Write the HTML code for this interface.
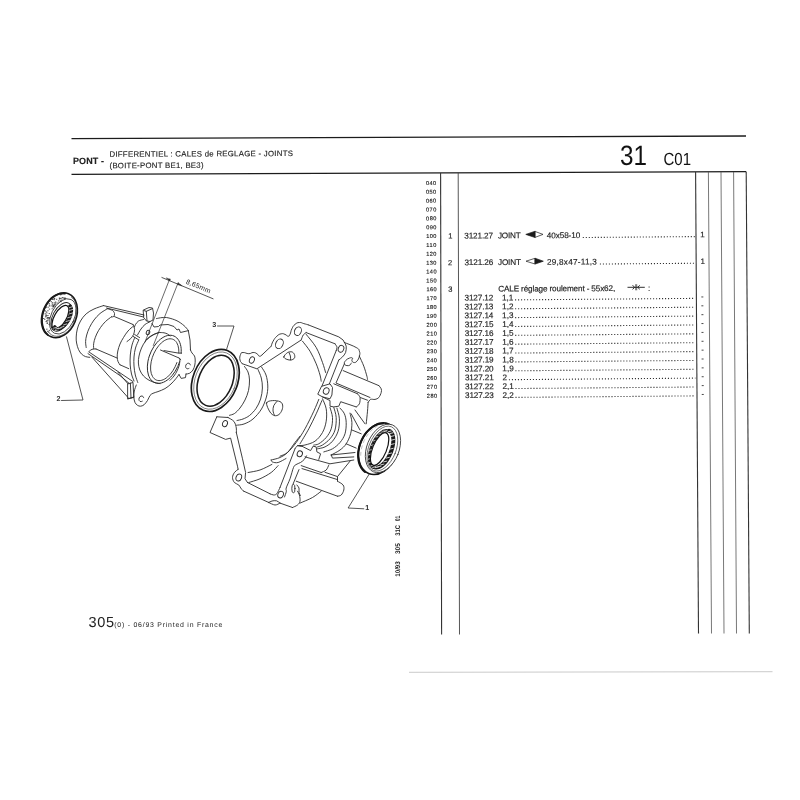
<!DOCTYPE html>
<html><head><meta charset="utf-8"><title>PONT - DIFFERENTIEL</title>
<style>
html,body{margin:0;padding:0;background:#fff;}
body{width:800px;height:800px;overflow:hidden;position:relative;font-family:"Liberation Sans",sans-serif;}
svg{position:absolute;left:0;top:0;will-change:transform;}
svg text{font-family:"Liberation Sans",sans-serif;text-rendering:geometricPrecision;}
</style></head><body>
<svg width="800" height="800" viewBox="0 0 800 800">

<g stroke="#1c1c1c" fill="none">
<line x1="71.5" y1="138.6" x2="746" y2="136" stroke-width="1.3"/>
<line x1="71.5" y1="174.4" x2="746.3" y2="171.6" stroke-width="1.2"/>
<line x1="440.6" y1="173" x2="441.6" y2="634.5" stroke-width="1.1" stroke="#333"/>
<line x1="458.2" y1="173" x2="459.5" y2="634.5" stroke-width="0.9" stroke="#444"/>
<line x1="695.6" y1="172" x2="698.5" y2="633.5" stroke-width="1.1" stroke="#333"/>
<line x1="708.4" y1="172" x2="711.5" y2="633.5" stroke-width="0.8" stroke="#555"/>
<line x1="721" y1="172" x2="724" y2="633.5" stroke-width="0.8" stroke="#555"/>
<line x1="733.6" y1="172" x2="736.5" y2="633.5" stroke-width="0.8" stroke="#555"/>
<line x1="746.2" y1="172" x2="749.3" y2="633.5" stroke-width="1.1" stroke="#333"/>
<line x1="409" y1="672.3" x2="772.5" y2="671.7" stroke-width="0.8" stroke="#bdbdbd"/>
</g>
<g transform="rotate(-0.25 73 164)" stroke="#222" stroke-width="0.14">
<text x="73" y="164.0" font-size="9" font-weight="bold" fill="#222" textLength="31" lengthAdjust="spacing" >PONT -</text>
<text x="109.5" y="157.0" font-size="7.8" font-weight="normal" fill="#222" textLength="183.5" lengthAdjust="spacing" >DIFFERENTIEL : CALES de REGLAGE - JOINTS</text>
<text x="109.5" y="168.4" font-size="7.8" font-weight="normal" fill="#222" textLength="94" lengthAdjust="spacing" >(BOITE-PONT BE1, BE3)</text>
</g>
<text x="620" y="165.2" font-size="28" font-weight="normal" fill="#111" textLength="27" lengthAdjust="spacingAndGlyphs" >31</text>
<text x="663.5" y="165" font-size="17.6" font-weight="normal" fill="#111" textLength="27.5" lengthAdjust="spacingAndGlyphs" >C01</text>
<g transform="rotate(-0.25 430 290)" stroke="#222" stroke-width="0.16">
<text x="426.4" y="184.9" font-size="5.6" font-weight="normal" fill="#1a1a1a" textLength="10.2" lengthAdjust="spacing" stroke="#1a1a1a" stroke-width="0.15">040</text>
<text x="426.4" y="193.77" font-size="5.6" font-weight="normal" fill="#1a1a1a" textLength="10.2" lengthAdjust="spacing" stroke="#1a1a1a" stroke-width="0.15">050</text>
<text x="426.4" y="202.63" font-size="5.6" font-weight="normal" fill="#1a1a1a" textLength="10.2" lengthAdjust="spacing" stroke="#1a1a1a" stroke-width="0.15">060</text>
<text x="426.4" y="211.5" font-size="5.6" font-weight="normal" fill="#1a1a1a" textLength="10.2" lengthAdjust="spacing" stroke="#1a1a1a" stroke-width="0.15">070</text>
<text x="426.4" y="220.36" font-size="5.6" font-weight="normal" fill="#1a1a1a" textLength="10.2" lengthAdjust="spacing" stroke="#1a1a1a" stroke-width="0.15">080</text>
<text x="426.4" y="229.23" font-size="5.6" font-weight="normal" fill="#1a1a1a" textLength="10.2" lengthAdjust="spacing" stroke="#1a1a1a" stroke-width="0.15">090</text>
<text x="426.4" y="238.09" font-size="5.6" font-weight="normal" fill="#1a1a1a" textLength="10.2" lengthAdjust="spacing" stroke="#1a1a1a" stroke-width="0.15">100</text>
<text x="426.4" y="246.96" font-size="5.6" font-weight="normal" fill="#1a1a1a" textLength="10.2" lengthAdjust="spacing" stroke="#1a1a1a" stroke-width="0.15">110</text>
<text x="426.4" y="255.82" font-size="5.6" font-weight="normal" fill="#1a1a1a" textLength="10.2" lengthAdjust="spacing" stroke="#1a1a1a" stroke-width="0.15">120</text>
<text x="426.4" y="264.69" font-size="5.6" font-weight="normal" fill="#1a1a1a" textLength="10.2" lengthAdjust="spacing" stroke="#1a1a1a" stroke-width="0.15">130</text>
<text x="426.4" y="273.55" font-size="5.6" font-weight="normal" fill="#1a1a1a" textLength="10.2" lengthAdjust="spacing" stroke="#1a1a1a" stroke-width="0.15">140</text>
<text x="426.4" y="282.42" font-size="5.6" font-weight="normal" fill="#1a1a1a" textLength="10.2" lengthAdjust="spacing" stroke="#1a1a1a" stroke-width="0.15">150</text>
<text x="426.4" y="291.28" font-size="5.6" font-weight="normal" fill="#1a1a1a" textLength="10.2" lengthAdjust="spacing" stroke="#1a1a1a" stroke-width="0.15">160</text>
<text x="426.4" y="300.14" font-size="5.6" font-weight="normal" fill="#1a1a1a" textLength="10.2" lengthAdjust="spacing" stroke="#1a1a1a" stroke-width="0.15">170</text>
<text x="426.4" y="309.01" font-size="5.6" font-weight="normal" fill="#1a1a1a" textLength="10.2" lengthAdjust="spacing" stroke="#1a1a1a" stroke-width="0.15">180</text>
<text x="426.4" y="317.88" font-size="5.6" font-weight="normal" fill="#1a1a1a" textLength="10.2" lengthAdjust="spacing" stroke="#1a1a1a" stroke-width="0.15">190</text>
<text x="426.4" y="326.74" font-size="5.6" font-weight="normal" fill="#1a1a1a" textLength="10.2" lengthAdjust="spacing" stroke="#1a1a1a" stroke-width="0.15">200</text>
<text x="426.4" y="335.61" font-size="5.6" font-weight="normal" fill="#1a1a1a" textLength="10.2" lengthAdjust="spacing" stroke="#1a1a1a" stroke-width="0.15">210</text>
<text x="426.4" y="344.47" font-size="5.6" font-weight="normal" fill="#1a1a1a" textLength="10.2" lengthAdjust="spacing" stroke="#1a1a1a" stroke-width="0.15">220</text>
<text x="426.4" y="353.34" font-size="5.6" font-weight="normal" fill="#1a1a1a" textLength="10.2" lengthAdjust="spacing" stroke="#1a1a1a" stroke-width="0.15">230</text>
<text x="426.4" y="362.2" font-size="5.6" font-weight="normal" fill="#1a1a1a" textLength="10.2" lengthAdjust="spacing" stroke="#1a1a1a" stroke-width="0.15">240</text>
<text x="426.4" y="371.06" font-size="5.6" font-weight="normal" fill="#1a1a1a" textLength="10.2" lengthAdjust="spacing" stroke="#1a1a1a" stroke-width="0.15">250</text>
<text x="426.4" y="379.93" font-size="5.6" font-weight="normal" fill="#1a1a1a" textLength="10.2" lengthAdjust="spacing" stroke="#1a1a1a" stroke-width="0.15">260</text>
<text x="426.4" y="388.8" font-size="5.6" font-weight="normal" fill="#1a1a1a" textLength="10.2" lengthAdjust="spacing" stroke="#1a1a1a" stroke-width="0.15">270</text>
<text x="426.4" y="397.66" font-size="5.6" font-weight="normal" fill="#1a1a1a" textLength="10.2" lengthAdjust="spacing" stroke="#1a1a1a" stroke-width="0.15">280</text>
<text x="448.5" y="238.69" font-size="7.5" font-weight="normal" fill="#222" >1</text>
<text x="448.2" y="265.29" font-size="7.5" font-weight="normal" fill="#222" >2</text>
<text x="448.2" y="291.88" font-size="7.5" font-weight="normal" fill="#222" >3</text>
<text x="464.5" y="238.69" font-size="8.2" font-weight="normal" fill="#222" textLength="28.8" lengthAdjust="spacing" >3121.27</text>
<text x="498.2" y="238.69" font-size="8.2" font-weight="normal" fill="#222" textLength="22.8" lengthAdjust="spacing" >JOINT</text>
<text x="547" y="238.69" font-size="8.2" font-weight="normal" fill="#222" textLength="33.5" lengthAdjust="spacing" >40x58-10</text>
<text x="464.5" y="265.29" font-size="8.2" font-weight="normal" fill="#222" textLength="28.8" lengthAdjust="spacing" >3121.26</text>
<text x="498.2" y="265.29" font-size="8.2" font-weight="normal" fill="#222" textLength="22.8" lengthAdjust="spacing" >JOINT</text>
<text x="547" y="265.29" font-size="8.2" font-weight="normal" fill="#222" textLength="50" lengthAdjust="spacing" >29,8x47-11,3</text>
<text x="498.2" y="291.88" font-size="8.2" font-weight="normal" fill="#222" textLength="117" lengthAdjust="spacing" >CALE réglage roulement - 55x62,</text>
<text x="648" y="291.88" font-size="8.2" font-weight="normal" fill="#222" >:</text>
<text x="464.5" y="300.75" font-size="8.2" font-weight="normal" fill="#222" textLength="28.8" lengthAdjust="spacing" >3127.12</text>
<text x="502" y="300.75" font-size="8.2" font-weight="normal" fill="#222" >1,1</text>
<text x="464.5" y="309.61" font-size="8.2" font-weight="normal" fill="#222" textLength="28.8" lengthAdjust="spacing" >3127.13</text>
<text x="502" y="309.61" font-size="8.2" font-weight="normal" fill="#222" >1,2</text>
<text x="464.5" y="318.48" font-size="8.2" font-weight="normal" fill="#222" textLength="28.8" lengthAdjust="spacing" >3127.14</text>
<text x="502" y="318.48" font-size="8.2" font-weight="normal" fill="#222" >1,3</text>
<text x="464.5" y="327.34" font-size="8.2" font-weight="normal" fill="#222" textLength="28.8" lengthAdjust="spacing" >3127.15</text>
<text x="502" y="327.34" font-size="8.2" font-weight="normal" fill="#222" >1,4</text>
<text x="464.5" y="336.21" font-size="8.2" font-weight="normal" fill="#222" textLength="28.8" lengthAdjust="spacing" >3127.16</text>
<text x="502" y="336.21" font-size="8.2" font-weight="normal" fill="#222" >1,5</text>
<text x="464.5" y="345.07" font-size="8.2" font-weight="normal" fill="#222" textLength="28.8" lengthAdjust="spacing" >3127.17</text>
<text x="502" y="345.07" font-size="8.2" font-weight="normal" fill="#222" >1,6</text>
<text x="464.5" y="353.94" font-size="8.2" font-weight="normal" fill="#222" textLength="28.8" lengthAdjust="spacing" >3127.18</text>
<text x="502" y="353.94" font-size="8.2" font-weight="normal" fill="#222" >1,7</text>
<text x="464.5" y="362.8" font-size="8.2" font-weight="normal" fill="#222" textLength="28.8" lengthAdjust="spacing" >3127.19</text>
<text x="502" y="362.8" font-size="8.2" font-weight="normal" fill="#222" >1,8</text>
<text x="464.5" y="371.67" font-size="8.2" font-weight="normal" fill="#222" textLength="28.8" lengthAdjust="spacing" >3127.20</text>
<text x="502" y="371.67" font-size="8.2" font-weight="normal" fill="#222" >1,9</text>
<text x="464.5" y="380.53" font-size="8.2" font-weight="normal" fill="#222" textLength="28.8" lengthAdjust="spacing" >3127.21</text>
<text x="502" y="380.53" font-size="8.2" font-weight="normal" fill="#222" >2</text>
<text x="464.5" y="389.4" font-size="8.2" font-weight="normal" fill="#222" textLength="28.8" lengthAdjust="spacing" >3127.22</text>
<text x="502" y="389.4" font-size="8.2" font-weight="normal" fill="#222" >2,1</text>
<text x="464.5" y="398.26" font-size="8.2" font-weight="normal" fill="#222" textLength="28.8" lengthAdjust="spacing" >3127.23</text>
<text x="502" y="398.26" font-size="8.2" font-weight="normal" fill="#222" >2,2</text>
<text x="700.4" y="238.49" font-size="8.0" font-weight="normal" fill="#222" >1</text>
<text x="700.6" y="265.09000000000003" font-size="8.0" font-weight="normal" fill="#222" >1</text>
<g stroke="#333" stroke-width="1.1" stroke-dasharray="1.1 1.9" fill="none">
<line x1="583" y1="238.19" x2="695" y2="237.742"/>
<line x1="600" y1="264.79" x2="695" y2="264.41"/>
<line x1="515" y1="300.25" x2="695" y2="299.53"/>
<line x1="515" y1="309.11" x2="695" y2="308.39"/>
<line x1="515" y1="317.98" x2="695" y2="317.26"/>
<line x1="515" y1="326.84" x2="695" y2="326.11999999999995"/>
<line x1="515" y1="335.71" x2="695" y2="334.98999999999995"/>
<line x1="515" y1="344.57" x2="695" y2="343.84999999999997"/>
<line x1="515" y1="353.44" x2="695" y2="352.71999999999997"/>
<line x1="515" y1="362.3" x2="695" y2="361.58"/>
<line x1="515" y1="371.17" x2="695" y2="370.45"/>
<line x1="508.5" y1="380.03" x2="695" y2="379.284"/>
<line x1="515" y1="388.9" x2="695" y2="388.17999999999995"/>
<line x1="515" y1="397.76" x2="695" y2="397.03999999999996"/>
</g>
<g stroke="#333" stroke-width="0.9">
<line x1="701.3" y1="298.15" x2="703.3" y2="298.15"/>
<line x1="701.3" y1="307.01" x2="703.3" y2="307.01"/>
<line x1="701.3" y1="315.88" x2="703.3" y2="315.88"/>
<line x1="701.3" y1="324.73999999999995" x2="703.3" y2="324.73999999999995"/>
<line x1="701.3" y1="333.60999999999996" x2="703.3" y2="333.60999999999996"/>
<line x1="701.3" y1="342.46999999999997" x2="703.3" y2="342.46999999999997"/>
<line x1="701.3" y1="351.34" x2="703.3" y2="351.34"/>
<line x1="701.3" y1="360.2" x2="703.3" y2="360.2"/>
<line x1="701.3" y1="369.07" x2="703.3" y2="369.07"/>
<line x1="701.3" y1="377.92999999999995" x2="703.3" y2="377.92999999999995"/>
<line x1="701.3" y1="386.79999999999995" x2="703.3" y2="386.79999999999995"/>
<line x1="701.3" y1="395.65999999999997" x2="703.3" y2="395.65999999999997"/>
</g>
</g>
<g id="icons" stroke="#1a1a1a" stroke-width="0.7" stroke-linejoin="round">
<path d="M525.8 234.4 L535.2 231.2 L535.2 237.6Z" fill="#1a1a1a"/>
<path d="M535.2 231.5 L543 234.4 L535.2 237.3Z" fill="#fff"/>
<path d="M526 261.2 L535 258.3 L535 264Z" fill="#fff"/>
<path d="M535 258.2 L543.3 261.2 L535 264.1Z" fill="#1a1a1a"/>
<g fill="none">
<path d="M627.5 287.3 H644.8" stroke-width="0.9"/>
<path d="M632.6 285.2 L634.6 287.3 L632.6 289.4" stroke-width="0.9"/>
<path d="M639.8 285.3 L637.7 287.3 L639.8 289.3" stroke-width="0.9"/>
<path d="M635.7 284.2 V290.3 M636.7 284.2 V290.3" stroke-width="0.6"/>
</g>
</g>

<text x="88.5" y="627" font-size="14.5" font-weight="normal" fill="#222" textLength="25.5" lengthAdjust="spacing" >305</text>
<text x="114.3" y="627.3" font-size="6.9" font-weight="normal" fill="#222" textLength="108" lengthAdjust="spacing" >(0) - 06/93 Printed in France</text>
<text transform="translate(400.4,576.8) rotate(-90)" font-size="6.8" font-weight="bold" fill="#222" textLength="15.6" lengthAdjust="spacingAndGlyphs">10/93</text>
<text transform="translate(400.4,554) rotate(-90)" font-size="6.8" font-weight="bold" fill="#222" textLength="10.8" lengthAdjust="spacingAndGlyphs">305</text>
<text transform="translate(400.4,535.8) rotate(-90)" font-size="6.8" font-weight="bold" fill="#222" textLength="10.8" lengthAdjust="spacingAndGlyphs">31C</text>
<text transform="translate(400.4,521.2) rotate(-90)" font-size="6.8" font-weight="bold" fill="#222" textLength="5.6" lengthAdjust="spacingAndGlyphs">01</text>
<g id="drawing" fill="none" stroke="#2a2a2a" stroke-width="0.9" stroke-linecap="round" stroke-linejoin="round">
<path d="M103.5 305.6 C101.92 306.17 96.88 307.63 94 309 C91.12 310.37 88.45 311.8 86.2 313.8 C83.95 315.8 81.98 318.47 80.5 321 C79.02 323.53 78.02 326.33 77.3 329 C76.58 331.67 76.32 334.67 76.2 337 C76.08 339.33 76.22 340.92 76.6 343 C76.98 345.08 77.68 347.67 78.5 349.5 C79.32 351.33 80.33 352.82 81.5 354 C82.67 355.18 84.12 356.05 85.5 356.6 C86.88 357.15 89.08 357.18 89.8 357.3"/>
<path d="M107.5 308.7 C106.25 309.5 102.25 311.62 100 313.5 C97.75 315.38 95.75 317.67 94 320 C92.25 322.33 90.72 325 89.5 327.5 C88.28 330 87.35 332.67 86.7 335 C86.05 337.33 85.68 339.42 85.6 341.5 C85.52 343.58 86.1 346.5 86.2 347.5"/>
<path d="M111.5 316.8 C110.5 317.58 107.33 319.72 105.5 321.5 C103.67 323.28 101.97 325.42 100.5 327.5 C99.03 329.58 97.73 331.83 96.7 334 C95.67 336.17 94.83 338.58 94.3 340.5 C93.77 342.42 93.58 344.15 93.5 345.5 C93.42 346.85 93.75 348.08 93.8 348.6"/>
<path d="M107.5 308.7 C108.33 309 111.33 309.7 112.5 310.5 C113.67 311.3 114.28 312.5 114.5 313.5 C114.72 314.5 114.3 315.95 113.8 316.5 C113.3 317.05 111.88 316.75 111.5 316.8"/>
<path d="M103.5 305.6 L144 315"/>
<path d="M106.5 308 L143.5 317"/>
<path d="M114.5 316.6 L133 324.5"/>
<path d="M89 351.5 C89.5 351.13 90.83 349.72 92 349.3 C93.17 348.88 95.33 349.05 96 349"/>
<path d="M96 349 L117 358"/>
<path d="M120 364.8 L128.8 368.7"/>
<path d="M133.5 326 C132.58 326.83 129.67 329.08 128 331 C126.33 332.92 124.83 335.33 123.5 337.5 C122.17 339.67 120.95 341.75 120 344 C119.05 346.25 118.27 348.83 117.8 351 C117.33 353.17 117.17 355.25 117.2 357 C117.23 358.75 117.53 360.2 118 361.5 C118.47 362.8 119.67 364.25 120 364.8"/>
<path d="M133 324.5 C133.27 325.33 134.52 327.83 134.6 329.5 C134.68 331.17 134.13 333 133.5 334.5 C132.87 336 131.88 337.33 130.8 338.5 C129.72 339.67 127.63 341 127 341.5"/>
<path d="M89 352 L133 381.6"/>
<path d="M88 353.6 L120 375.6 L129.2 383.4"/>
<path d="M91.8 357 L128 397.5"/>
<path d="M118 372.2 L128 383.8"/>
<path d="M128 383.8 L133 382.5 L133.8 397.4 L128 398.8Z"/>
<path d="M130.4 383.2 L131 398.1"/>
<path d="M143.5 310 L149 307.5 L152.5 308 L153.5 313 L153 320 L150 321.5 L146.5 321 L144 318Z"/>
<path d="M146.3 311.3 L147 320.8"/>
<path d="M143.8 310.5 L146.3 311.3 L152 308.8"/>
<path d="M143.5 319.5 C142.67 319.75 139.83 320.17 138.5 321 C137.17 321.83 136.17 323.5 135.5 324.5 C134.83 325.5 134.67 326.58 134.5 327"/>
<path d="M150 321.8 C149.17 322.25 146.5 323.3 145 324.5 C143.5 325.7 142.25 327.25 141 329 C139.75 330.75 138.08 334 137.5 335"/>
<path d="M134.8 337.5 C134.33 338.75 132.75 342.08 132 345 C131.25 347.92 130.6 351.67 130.3 355 C130 358.33 130 361.83 130.2 365 C130.4 368.17 130.87 371.33 131.5 374 C132.13 376.67 133.58 379.83 134 381"/>
<path d="M138.8 340 C138.25 341.33 136.3 345.17 135.5 348 C134.7 350.83 134.25 354 134 357 C133.75 360 133.78 363 134 366 C134.22 369 134.67 372.25 135.3 375 C135.93 377.75 137.38 381.25 137.8 382.5"/>
<path d="M133.3 336.5 L138.6 339.8"/>
<path d="M134.6 334.5 L139.6 337.6"/>
<path d="M159 332.5 C158 332.92 155.17 333.67 153 335 C150.83 336.33 147.92 338.33 146 340.5 C144.08 342.67 142.67 345.42 141.5 348 C140.33 350.58 139.52 353.5 139 356 C138.48 358.5 138.27 360.67 138.4 363 C138.53 365.33 138.95 367.83 139.8 370 C140.65 372.17 141.97 374.3 143.5 376 C145.03 377.7 147.08 379.1 149 380.2 C150.92 381.3 153.17 382.03 155 382.6 C156.83 383.17 159.17 383.43 160 383.6"/>
<path d="M159 332.5 C159.83 332.55 162.58 332.55 164 332.8 C165.42 333.05 166.5 333.47 167.5 334 C168.5 334.53 169.58 335.67 170 336"/>
<path d="M179.57 361.69 C179.25 362.52 178.41 365.06 177.67 366.67 C176.94 368.27 176.09 369.86 175.18 371.32 C174.27 372.78 173.25 374.18 172.2 375.43 C171.15 376.68 170.01 377.84 168.87 378.82 C167.72 379.81 166.51 380.66 165.33 381.34 C164.14 382.01 162.92 382.54 161.74 382.87 C160.57 383.21 159.38 383.37 158.27 383.35 C157.16 383.33 156.07 383.12 155.07 382.75 C154.07 382.37 153.12 381.81 152.28 381.1 C151.44 380.39 150.68 379.49 150.03 378.47 C149.39 377.46 148.84 376.27 148.42 374.99 C148 373.71 147.7 372.29 147.52 370.81 C147.35 369.33 147.3 367.73 147.37 366.11 C147.45 364.49 147.66 362.79 147.98 361.1 C148.3 359.42 148.76 357.69 149.32 356.02 C149.87 354.35 150.56 352.67 151.33 351.08 C152.09 349.5 152.97 347.94 153.91 346.51 C154.85 345.08 155.89 343.72 156.97 342.51 C158.04 341.31 159.19 340.2 160.35 339.27 C161.51 338.33 162.72 337.53 163.91 336.92 C165.1 336.3 166.31 335.84 167.48 335.57 C168.65 335.29 169.82 335.2 170.92 335.28 C172.01 335.36 173.08 335.63 174.05 336.07 C175.03 336.5 175.95 337.13 176.75 337.9 C177.56 338.66 178.29 339.61 178.9 340.68 C179.5 341.75 180.01 342.98 180.39 344.3 C180.77 345.62 181.03 347.08 181.16 348.59 C181.29 350.1 181.17 352.56 181.18 353.36" stroke-width="1.0"/>
<path d="M176.87 362.55 C176.58 363.25 175.78 365.41 175.12 366.76 C174.47 368.11 173.72 369.44 172.93 370.67 C172.14 371.89 171.27 373.06 170.38 374.1 C169.49 375.14 168.54 376.1 167.59 376.92 C166.64 377.74 165.65 378.44 164.68 379 C163.7 379.55 162.71 379.98 161.76 380.25 C160.81 380.52 159.86 380.64 158.97 380.62 C158.08 380.59 157.22 380.41 156.43 380.09 C155.64 379.76 154.9 379.29 154.24 378.68 C153.59 378.08 153 377.32 152.5 376.46 C152.01 375.6 151.6 374.6 151.29 373.52 C150.98 372.44 150.76 371.24 150.65 369.99 C150.54 368.74 150.52 367.38 150.61 366.01 C150.7 364.64 150.9 363.2 151.18 361.77 C151.47 360.34 151.86 358.86 152.33 357.43 C152.8 356 153.37 354.56 154.01 353.2 C154.65 351.83 155.38 350.48 156.15 349.24 C156.92 347.99 157.78 346.8 158.66 345.73 C159.53 344.66 160.48 343.67 161.42 342.82 C162.37 341.97 163.36 341.23 164.33 340.64 C165.3 340.04 166.29 339.58 167.25 339.27 C168.21 338.96 169.16 338.79 170.06 338.78 C170.96 338.77 171.84 338.91 172.64 339.19 C173.45 339.47 174.21 339.91 174.89 340.48 C175.56 341.05 176.17 341.77 176.69 342.59 C177.21 343.42 177.65 344.39 177.98 345.44 C178.31 346.5 178.56 347.67 178.7 348.91 C178.84 350.14 178.8 352.18 178.82 352.83"/>
<path d="M180 359 C179.88 360 179.8 363 179.3 365 C178.8 367 177.88 369.17 177 371 C176.12 372.83 175.17 374.45 174 376 C172.83 377.55 170.67 379.58 170 380.3"/>
<path d="M160.5 350 L179 358"/>
<path d="M164 350.6 L179 353.2 L181.5 353"/>
<path d="M179 358 L180.6 359.8"/>
<path d="M156.5 318.6 C157.42 318.43 160.08 317.73 162 317.6 C163.92 317.47 165.5 317.27 168 317.8 C170.5 318.33 174.33 319.5 177 320.8 C179.67 322.1 182.17 324.07 184 325.6 C185.83 327.13 187.33 329.27 188 330"/>
<path d="M188.3 330.6 L190 340 L190.5 350"/>
<path d="M190.5 350 C190.75 350.5 191.33 352 192 353 C192.67 354 193.97 354.83 194.5 356 C195.03 357.17 195.15 358.5 195.2 360 C195.25 361.5 195.17 363.33 194.8 365 C194.43 366.67 193.88 368.62 193 370 C192.12 371.38 190.67 372.63 189.5 373.3 C188.33 373.97 186.58 373.88 186 374"/>
<path d="M186 374 L185.5 377.6 L181.2 378.4 L179 374.5"/>
<path d="M152 323.5 L154 327 L158.5 326.5 L160 325 L168 324.5 L174 326.5 L177 330 L179 329 L180.5 332.5 L188.4 330.6"/>
<ellipse cx="148" cy="332.5" rx="1.7" ry="2.3" transform="rotate(22 148 332.5)" />
<path d="M146 340 L150 336.5 L154 334.3 L159 332.5"/>
<path d="M188.94 368.39 C188.74 368.46 188.16 368.78 187.79 368.82 C187.42 368.85 187.01 368.76 186.7 368.58 C186.38 368.41 186.09 368.09 185.91 367.75 C185.73 367.4 185.61 366.94 185.61 366.5 C185.6 366.07 185.7 365.56 185.87 365.14 C186.04 364.72 186.32 364.29 186.63 363.98 C186.93 363.67 187.34 363.41 187.71 363.29 C188.08 363.17 188.51 363.15 188.86 363.24 C189.21 363.33 189.56 363.55 189.81 363.83 C190.05 364.11 190.24 364.75 190.33 364.93"/>
<path d="M136.3 385 C135.97 386 134.72 389 134.3 391 C133.88 393 133.68 395.08 133.8 397 C133.92 398.92 134.38 401.12 135 402.5 C135.62 403.88 136.58 404.68 137.5 405.3 C138.42 405.92 139.42 406.28 140.5 406.2 C141.58 406.12 142.83 405.75 144 404.8 C145.17 403.85 146.5 402.05 147.5 400.5 C148.5 398.95 149.08 396.7 150 395.5 C150.92 394.3 151.67 393.95 153 393.3 C154.33 392.65 156 392.38 158 391.6 C160 390.82 162.83 389.87 165 388.6 C167.17 387.33 169.17 385.68 171 384 C172.83 382.32 174.67 380.08 176 378.5 C177.33 376.92 178.5 375.17 179 374.5"/>
<path d="M142.24 401.19 C142.04 401.26 141.46 401.58 141.09 401.62 C140.72 401.65 140.31 401.56 140 401.38 C139.68 401.21 139.39 400.89 139.21 400.55 C139.03 400.2 138.91 399.74 138.91 399.3 C138.9 398.87 139 398.36 139.17 397.94 C139.34 397.52 139.62 397.09 139.93 396.78 C140.23 396.47 140.64 396.21 141.01 396.09 C141.38 395.97 141.81 395.95 142.16 396.04 C142.51 396.13 142.86 396.35 143.11 396.63 C143.35 396.91 143.54 397.55 143.63 397.73"/>
<path d="M133.8 397 L128 398.8"/>
<path d="M161.9 277.5 L213.1 298.8" stroke-width="0.8"/>
<path d="M169.6 279.2 L145 342" stroke-width="0.7"/>
<path d="M178.2 282.6 L153.3 345.5" stroke-width="0.7"/>
<path d="M166.5 278.2 L169.8 280.9 L170.3 279.6Z" stroke-width="0.5" fill="#222"/>
<path d="M181.8 285.6 L178.3 283 L177.8 284.2Z" stroke-width="0.5" fill="#222"/>
<ellipse cx="215.3" cy="380.4" rx="22.3" ry="32.2" transform="rotate(22 215.3 380.4)" stroke-width="1.7" stroke="#1a1a1a" fill="#fff" />
<ellipse cx="215.5" cy="380.6" rx="20.2" ry="29.8" transform="rotate(22 215.5 380.6)" stroke-width="0.6" stroke="#444" />
<ellipse cx="215.6" cy="380.7" rx="16.9" ry="26.6" transform="rotate(22 215.6 380.7)" stroke-width="1.55" stroke="#1a1a1a" />
<path d="M217.5 326 L234 326 L226.6 349.3" stroke-width="0.8"/>
<ellipse cx="59.8" cy="315.3" rx="16.6" ry="23.2" transform="rotate(22 59.8 315.3)" stroke-width="1.5" stroke="#151515" fill="#fff" />
<path d="M71.28 296.92 C71.7 297.35 73.08 298.5 73.8 299.52 C74.51 300.53 75.13 301.73 75.59 303.01 C76.06 304.29 76.39 305.73 76.58 307.21 C76.76 308.69 76.8 310.29 76.69 311.88 C76.58 313.47 76.32 315.14 75.93 316.75 C75.54 318.37 74.99 320.02 74.33 321.56 C73.68 323.11 72.87 324.65 71.99 326.04 C71.11 327.44 70.1 328.77 69.04 329.94 C67.98 331.1 66.81 332.16 65.63 333.03 C64.46 333.9 63.2 334.63 61.97 335.15 C60.74 335.68 59.47 336.03 58.25 336.18 C57.04 336.33 55.82 336.29 54.69 336.06 C53.56 335.83 52.46 335.4 51.48 334.8 C50.5 334.2 49.25 332.85 48.8 332.46" stroke-width="0.7"/>
<ellipse cx="62.8" cy="316.4" rx="11.6" ry="18.8" transform="rotate(26 62.8 316.4)" stroke-width="0.8" stroke="#333" />
<ellipse cx="61.4" cy="316.9" rx="8.6" ry="15.6" transform="rotate(28 61.4 316.9)" stroke="#222" />
<ellipse cx="60.4" cy="317.3" rx="6" ry="13.4" transform="rotate(30 60.4 317.3)" stroke-width="1.3" stroke="#111" fill="#fff" />
<path d="M70.09 306.12 C70.25 306.41 70.81 307.19 71.01 307.89 C71.22 308.59 71.33 309.42 71.33 310.31 C71.33 311.19 71.22 312.19 71.02 313.19 C70.81 314.2 70.5 315.28 70.1 316.34 C69.71 317.39 69.2 318.49 68.64 319.51 C68.09 320.54 67.43 321.57 66.75 322.5 C66.07 323.42 65.31 324.31 64.56 325.07 C63.81 325.83 63 326.51 62.23 327.05 C61.46 327.58 60.66 328.01 59.92 328.28 C59.19 328.56 58.46 328.7 57.81 328.7 C57.16 328.69 56.55 328.54 56.04 328.26 C55.53 327.97 54.96 327.2 54.75 326.99" stroke-width="3.6" stroke="#1a1a1a"/>
<path d="M69.2 307.7 L72.4 306.7 M69.7 310.4 L72.9 309.4 M69.4 313.9 L72.6 312.9 M68.1 317.7 L71.3 316.7 M66.2 321.5 L69.4 320.5 M63.6 324.9 L66.8 323.9 M60.8 327.4 L64.0 326.4 M58.0 328.9 L61.2 327.9 M55.6 329.1 L58.8 328.1 M53.7 328.2 L56.9 327.2" stroke="#fff" stroke-width="0.7" fill="none"/>
<path d="M47.67 334.89 C47.21 334.43 45.71 333.2 44.92 332.13 C44.14 331.05 43.45 329.78 42.94 328.42 C42.42 327.07 42.03 325.55 41.82 323.99 C41.6 322.43 41.53 320.75 41.62 319.07 C41.71 317.4 41.97 315.64 42.37 313.94 C42.76 312.24 43.33 310.51 44.01 308.88 C44.69 307.25 45.53 305.63 46.46 304.16 C47.38 302.69 48.45 301.29 49.58 300.06 C50.7 298.83 51.94 297.71 53.19 296.79 C54.45 295.87 55.79 295.1 57.11 294.54 C58.43 293.98 59.8 293.6 61.11 293.43 C62.42 293.27 64.33 293.51 64.97 293.53" stroke-width="1.9" stroke="#1a1a1a"/>
<path d="M45.9 321.6 h0.6 M45.9 315.2 h0.6 M53.4 306.1 h0.6 M48.3 332.0 h0.6 M47.8 319.9 h0.6 M65.2 298.5 h0.6 M59.4 298.7 h0.6 M53.5 305.3 h0.6 M50.9 301.6 h0.6 M47.9 307.2 h0.6 M54.6 304.9 h0.6 M56.3 299.3 h0.6 M49.0 317.8 h0.6 M60.5 298.4 h0.6 M54.2 298.4 h0.6 M53.9 298.3 h0.6 M45.0 313.8 h0.6 M45.0 310.9 h0.6 M60.8 301.2 h0.6 M48.9 324.4 h0.6 M64.1 298.5 h0.6 M52.6 304.9 h0.6 M49.2 309.1 h0.6 M45.8 316.2 h0.6 M48.9 303.6 h0.6 M52.5 299.4 h0.6 M60.2 294.6 h0.6 M54.3 304.3 h0.6 M60.4 294.7 h0.6 M62.1 297.5 h0.6 M55.5 302.9 h0.6 M59.2 298.0 h0.6 M48.8 318.5 h0.6 M60.1 294.6 h0.6 M46.5 329.2 h0.6 M49.0 313.6 h0.6 M44.4 319.3 h0.6 M60.6 301.7 h0.6 M53.2 306.5 h0.6 M55.3 302.0 h0.6 M61.4 294.4 h0.6 M46.1 307.3 h0.6 M48.7 317.6 h0.6 M52.9 307.1 h0.6 M47.1 322.9 h0.6 M52.7 306.1 h0.6 M47.3 331.3 h0.6 M43.3 318.5 h0.6 M61.6 299.0 h0.6 M47.6 310.8 h0.6 M52.1 302.7 h0.6 M49.4 306.0 h0.6 M63.3 297.9 h0.6 M46.0 311.9 h0.6 M47.4 320.9 h0.6 M64.7 297.9 h0.6 M51.9 308.8 h0.6 M46.5 312.9 h0.6 M49.1 330.4 h0.6 M53.6 305.9 h0.6 M52.0 304.0 h0.6 M54.0 302.9 h0.6 M54.0 299.7 h0.6 M51.6 326.7 h0.6 M52.2 299.4 h0.6 M46.4 320.8 h0.6 M51.6 305.9 h0.6 M47.6 315.5 h0.6 M45.9 315.2 h0.6 M46.9 318.4 h0.6 M57.6 303.0 h0.6 M49.2 305.1 h0.6 M47.8 317.7 h0.6 M58.3 300.9 h0.6 M47.0 323.4 h0.6 M55.3 304.0 h0.6 M47.2 317.4 h0.6 M59.3 299.0 h0.6 M60.1 300.9 h0.6 M45.3 316.9 h0.6" stroke="#333" stroke-width="0.8" fill="none"/>
<path d="M66.5 336.8 L83 400 L61.5 400.5" stroke-width="0.8"/>
<ellipse cx="378.6" cy="448.7" rx="18.9" ry="26.7" transform="rotate(22 378.6 448.7)" stroke-width="1.7" stroke="#151515" fill="#fff" />
<path d="M365.06 472 C364.55 471.49 362.9 470.13 362.01 468.95 C361.13 467.76 360.36 466.37 359.76 464.88 C359.17 463.4 358.71 461.73 358.43 460.02 C358.15 458.3 358.02 456.45 358.07 454.59 C358.12 452.74 358.34 450.79 358.71 448.89 C359.09 446.99 359.64 445.04 360.32 443.19 C361.01 441.33 361.86 439.49 362.82 437.78 C363.77 436.07 364.88 434.42 366.07 432.94 C367.25 431.46 368.56 430.09 369.91 428.91 C371.26 427.74 372.71 426.71 374.16 425.9 C375.6 425.09 377.11 424.47 378.58 424.06 C380.05 423.66 382.24 423.58 382.97 423.48" stroke-width="2.0" stroke="#151515"/>
<ellipse cx="383" cy="448.4" rx="16.1" ry="25.3" transform="rotate(22 383 448.4)" stroke-width="0.8" stroke="#333" fill="#fff" />
<ellipse cx="382.4" cy="448.6" rx="13.6" ry="23.6" transform="rotate(22 382.4 448.6)" stroke-width="0.7" stroke="#444" />
<ellipse cx="380.6" cy="449" rx="10.2" ry="20.6" transform="rotate(22 380.6 449)" stroke-width="1.0" stroke="#222" />
<path d="M389.14 430.83 C389.47 431.07 390.55 431.62 391.11 432.28 C391.67 432.93 392.15 433.79 392.51 434.76 C392.86 435.73 393.11 436.89 393.24 438.12 C393.36 439.36 393.37 440.75 393.26 442.16 C393.15 443.58 392.92 445.11 392.58 446.62 C392.24 448.13 391.77 449.72 391.22 451.23 C390.68 452.74 390.01 454.28 389.29 455.7 C388.57 457.12 387.75 458.51 386.89 459.75 C386.04 460.99 385.11 462.16 384.18 463.14 C383.25 464.13 382.27 464.99 381.32 465.66 C380.37 466.32 379.4 466.83 378.49 467.14 C377.58 467.45 376.68 467.58 375.87 467.51 C375.05 467.44 374.28 467.17 373.61 466.72 C372.94 466.28 372.15 465.16 371.86 464.85" stroke-width="4.0" stroke="#1a1a1a"/>
<path d="M388.0 431.8 L391.2 431.0 M389.8 433.6 L393.0 432.8 M390.9 436.5 L394.1 435.7 M391.3 440.2 L394.5 439.4 M391.0 444.5 L394.2 443.7 M390.0 449.1 L393.2 448.3 M388.4 453.8 L391.6 453.0 M386.2 458.1 L389.4 457.3 M383.6 461.9 L386.8 461.1 M380.7 464.9 L383.9 464.1 M377.8 466.9 L381.0 466.1 M375.1 467.7 L378.3 466.9 M372.7 467.4 L375.9 466.6 M370.7 465.9 L373.9 465.1" stroke="#fff" stroke-width="0.8" fill="none"/>
<path d="M370.65 464.28 C370.5 463.86 369.95 462.74 369.73 461.79 C369.52 460.85 369.39 459.76 369.37 458.62 C369.34 457.47 369.41 456.21 369.57 454.93 C369.74 453.64 370 452.27 370.34 450.91 C370.68 449.56 371.13 448.15 371.63 446.8 C372.14 445.45 372.73 444.08 373.37 442.8 C374.01 441.52 374.73 440.27 375.47 439.14 C376.21 438.01 377.01 436.93 377.81 436.01 C378.61 435.08 379.45 434.25 380.27 433.58 C381.09 432.9 381.92 432.36 382.71 431.98 C383.51 431.6 384.29 431.36 385.01 431.3 C385.74 431.23 386.7 431.52 387.04 431.57" stroke-width="1.8" stroke="#1a1a1a"/>
<path d="M368.7 462.8 L371.1 462.2 M368.2 459.2 L370.6 458.6 M368.4 454.9 L370.8 454.3 M369.4 450.2 L371.8 449.6 M371.1 445.4 L373.5 444.8 M373.4 440.9 L375.8 440.3 M376.0 437.0 L378.4 436.4 M378.9 434.0 L381.3 433.4 M381.7 432.2 L384.1 431.6 M384.4 431.6 L386.8 431.0" stroke="#fff" stroke-width="0.7" fill="none"/>
<ellipse cx="379.6" cy="449" rx="7" ry="17.4" transform="rotate(22 379.6 449)" stroke-width="1.2" stroke="#111" fill="#fff" />
<path d="M360.73 455.22 C360.74 455.06 360.75 454.57 360.76 454.25 C360.77 453.92 360.79 453.59 360.82 453.26 C360.84 452.94 360.89 452.44 360.9 452.27" stroke-width="0.5" stroke="#777"/>
<path d="M361.43 448.85 C361.47 448.68 361.58 448.18 361.66 447.85 C361.74 447.51 361.82 447.18 361.91 446.85 C362 446.51 362.14 446.01 362.19 445.85" stroke-width="0.5" stroke="#777"/>
<path d="M363.37 442.48 C363.43 442.32 363.63 441.84 363.77 441.52 C363.91 441.2 364.05 440.89 364.2 440.57 C364.35 440.26 364.58 439.79 364.66 439.64" stroke-width="0.5" stroke="#777"/>
<path d="M366.4 436.56 C366.49 436.42 366.77 435.99 366.96 435.71 C367.15 435.43 367.34 435.15 367.54 434.87 C367.73 434.6 368.03 434.2 368.13 434.06" stroke-width="0.5" stroke="#777"/>
<path d="M370.32 431.49 C370.44 431.37 370.77 431.02 371 430.8 C371.22 430.57 371.45 430.35 371.69 430.14 C371.92 429.92 372.27 429.61 372.39 429.51" stroke-width="0.5" stroke="#777"/>
<path d="M374.87 427.61 C375 427.53 375.37 427.28 375.62 427.13 C375.87 426.98 376.12 426.83 376.37 426.69 C376.62 426.55 377 426.35 377.12 426.28" stroke-width="0.5" stroke="#777"/>
<path d="M369.4 473.8 L348.1 508 L363.8 508.8" stroke-width="0.8"/>
<path d="M242.5 363.8 C241.83 362.79 240.51 362.51 240 360 C239.49 357.49 239.77 356.4 240.6 354.4 C241.43 352.4 240.91 352.69 243.1 352.5 C245.29 352.31 246.13 353.7 248.8 353.7 C251.47 353.7 250.94 352.5 253.1 352.5 C255.26 352.5 255.22 352.71 256.9 353.7 C258.58 354.69 258.07 355.85 259.4 356.2 C260.73 356.55 261.23 355.32 261.9 355"/>
<path d="M261.9 355 L271.2 346.2"/>
<path d="M271.2 346.2 C271.71 344.87 271.58 343.87 273.1 341.2 C274.62 338.53 274.74 338.17 276.9 336.2 C279.06 334.23 279.04 334.28 281.2 333.8 C283.36 333.32 283.16 333.76 285 334.4 C286.84 335.04 286.77 336.2 288.1 336.2 C289.43 336.2 288.99 336.37 290 334.4 C291.01 332.43 290.57 331.47 291.9 328.8 C293.23 326.13 293 326.08 295 324.4 C297 322.72 297.05 322.71 299.4 322.5 C301.75 322.29 301.48 322.99 303.8 323.6 C306.12 324.21 306.95 324.48 308.1 324.8"/>
<path d="M308.1 324.8 L338.8 336.9 L343.1 340 L344.4 342.5"/>
<path d="M242.5 363.8 L256.9 368.8 L301.2 340"/>
<path d="M301.2 340 C301.53 339.17 302.37 336.23 303.2 335 C304.03 333.77 305.7 333 306.2 332.6"/>
<path d="M306.2 332.6 L335 343.8"/>
<path d="M335 343.8 C335.33 344.37 336.8 346.07 337 347.2 C337.2 348.33 336.33 350.03 336.2 350.6"/>
<ellipse cx="251.9" cy="360" rx="2.4" ry="3.3" transform="rotate(22 251.9 360)" />
<ellipse cx="279.4" cy="343.8" rx="3.6" ry="5" transform="rotate(25 279.4 343.8)" />
<ellipse cx="297.9" cy="331.2" rx="3.3" ry="4.4" transform="rotate(25 297.9 331.2)" />
<ellipse cx="341" cy="348.8" rx="2.7" ry="3.5" transform="rotate(22 341 348.8)" />
<path d="M283.8 356.9 C283.9 355.77 286.15 353.43 287.5 352.6 C288.85 351.77 290.75 351.6 291.9 351.9 C293.05 352.2 293.97 353.38 294.4 354.4 C294.83 355.42 295.03 357.07 294.5 358 C293.97 358.93 292.47 359.77 291.2 360 C289.93 360.23 288.13 359.92 286.9 359.4 C285.67 358.88 283.7 358.03 283.8 356.9Z"/>
<path d="M289 352.6 C289.23 353.17 290.13 354.8 290.4 356 C290.67 357.2 290.57 359.17 290.6 359.8"/>
<path d="M266.5 403 C266.92 401.1 270.25 400.83 272.5 400.6 C274.75 400.37 278.32 400.87 280 401.6 C281.68 402.33 282.27 403.6 282.6 405 C282.93 406.4 282.6 408.42 282 410 C281.4 411.58 280.25 413.57 279 414.5 C277.75 415.43 276 416.02 274.5 415.6 C273 415.18 271.33 414.1 270 412 C268.67 409.9 266.08 404.9 266.5 403Z"/>
<path d="M277 401.4 C276.47 402.08 274.47 403.9 273.8 405.5 C273.13 407.1 272.88 409.35 273 411 C273.12 412.65 274.25 414.67 274.5 415.4"/>
<path d="M244.5 366.5 C245.08 367.42 247.17 369.75 248 372 C248.83 374.25 249.42 376.92 249.5 380 C249.58 383.08 249.25 387.17 248.5 390.5 C247.75 393.83 246.42 397.08 245 400 C243.58 402.92 241.75 405.75 240 408 C238.25 410.25 236.25 412.28 234.5 413.5 C232.75 414.72 230.33 415 229.5 415.3"/>
<path d="M258 369.5 C258.55 370.92 260.57 374.92 261.3 378 C262.03 381.08 262.52 384.5 262.4 388 C262.28 391.5 261.67 395.58 260.6 399 C259.53 402.42 257.85 405.75 256 408.5 C254.15 411.25 251.67 413.75 249.5 415.5 C247.33 417.25 245.08 418.17 243 419 C240.92 419.83 238 420.25 237 420.5"/>
<path d="M261.5 367 C262.25 368.33 264.95 371.83 266 375 C267.05 378.17 267.73 382.33 267.8 386 C267.87 389.67 267.45 393.17 266.4 397 C265.35 400.83 263.73 405.33 261.5 409 C259.27 412.67 255.92 416.5 253 419 C250.08 421.5 246.75 422.97 244 424 C241.25 425.03 237.75 425 236.5 425.2"/>
<path d="M216.8 416.8 L228 417.5"/>
<path d="M228 417.5 C229 418.17 232.62 419.75 234 421.5 C235.38 423.25 235.92 426.17 236.3 428 C236.68 429.83 236.3 431.75 236.3 432.5"/>
<path d="M216.8 416.8 L210 432.5 L225.6 439.4 L230.6 438.1 L237.5 466.2 L238.1 469.4"/>
<path d="M236.3 432.5 L242.5 458.8 L245.6 472.5 L245 478.8 L247.5 482.5"/>
<ellipse cx="225" cy="423.6" rx="2.4" ry="3.2" transform="rotate(22 225 423.6)" />
<path d="M238.1 469.4 C237.48 469.92 235.33 471.15 234.4 472.5 C233.47 473.85 232.5 475.83 232.5 477.5 C232.5 479.17 233.35 481.25 234.4 482.5 C235.45 483.75 237.67 483.95 238.8 485 C239.93 486.05 240.37 487.77 241.2 488.8 C242.03 489.83 243.37 490.8 243.8 491.2"/>
<ellipse cx="238.8" cy="477.5" rx="2.7" ry="3.6" transform="rotate(22 238.8 477.5)" />
<path d="M243.8 491.2 L268.8 502.5"/>
<path d="M268.8 502.5 C269.33 502.25 270.72 501.28 272 501 C273.28 500.72 275.17 500.45 276.5 500.8 C277.83 501.15 279.42 502.72 280 503.1"/>
<path d="M268.8 502.5 C269.83 502.92 273.13 504.9 275 505 C276.87 505.1 279.17 503.42 280 503.1"/>
<path d="M280 503.1 L292.5 507.5"/>
<path d="M292.5 507.5 C293.33 507.08 296.25 506.05 297.5 505 C298.75 503.95 299.68 502.87 300 501.2 C300.32 499.53 299.82 496.67 299.4 495 C298.98 493.33 297.82 491.83 297.5 491.2"/>
<path d="M247.5 482.5 L270 493.8"/>
<path d="M270 493.8 C270.63 494 272.65 495.03 273.8 495 C274.95 494.97 275.87 494.85 276.9 493.6 C277.93 492.35 279.48 488.52 280 487.5"/>
<path d="M280 487.5 L295 448.8"/>
<path d="M295 448.8 C295.42 448.3 296.35 446.23 297.5 445.8 C298.65 445.37 301.17 446.13 301.9 446.2"/>
<ellipse cx="280.6" cy="494.6" rx="2.7" ry="3.4" transform="rotate(22 280.6 494.6)" />
<path d="M248.1 472.5 C250.08 472.08 256.03 471.35 260 470 C263.97 468.65 269.92 465.33 271.9 464.4"/>
<path d="M248.8 482.5 C250.67 481.88 256.27 480.47 260 478.8 C263.73 477.13 268.18 474.7 271.2 472.5 C274.22 470.3 276.95 466.75 278.1 465.6"/>
<path d="M271.2 460 C272.67 459.58 277.28 458.75 280 457.5 C282.72 456.25 285 455 287.5 452.5 C290 450 292.92 445.22 295 442.5 C297.08 439.78 299.17 437.25 300 436.2"/>
<path d="M271.2 460 C271.42 460.33 271.35 461.58 272.5 462 C273.65 462.42 275.85 463.08 278.1 462.5 C280.35 461.92 284.68 459.17 286 458.5"/>
<ellipse cx="293.4" cy="488.6" rx="1.6" ry="4.4" transform="rotate(0 293.4 488.6)" />
<path d="M296.8 485 C297.17 485.5 298.63 486.75 299 488 C299.37 489.25 298.77 491.25 299 492.5 C299.23 493.75 300.17 495 300.4 495.5"/>
<path d="M302.5 341.2 C303.75 342.87 307.72 347.43 310 351.2 C312.28 354.97 314.53 359.83 316.2 363.8 C317.87 367.77 319.17 372.1 320 375 C320.83 377.9 321 380.17 321.2 381.2"/>
<path d="M306.2 334.4 C307.87 336.58 313.48 342.82 316.2 347.5 C318.92 352.18 320.93 358.33 322.5 362.5 C324.07 366.67 325.08 370.83 325.6 372.5"/>
<path d="M318.8 399.4 C317.97 401.37 316.1 406.3 313.8 411.2 C311.5 416.1 307.93 423.58 305 428.8 C302.07 434.02 299.12 438.55 296.2 442.5 C293.28 446.45 290.2 450.22 287.5 452.5 C284.8 454.78 281.25 455.58 280 456.2"/>
<path d="M321.9 400.6 C320.95 402.8 318.38 409.1 316.2 413.8 C314.02 418.5 311.5 423.8 308.8 428.8 C306.1 433.8 301.47 441.3 300 443.8"/>
<path d="M344.4 342.5 C344.7 343.12 346 344.53 346.2 346.2 C346.4 347.87 346.22 350.72 345.6 352.5 C344.98 354.28 343.63 355.65 342.5 356.9 C341.37 358.15 339.42 359.48 338.8 360"/>
<path d="M338.8 360 L329.4 383.8"/>
<path d="M336.2 350.6 L321.9 386.2"/>
<path d="M321.9 386.2 L330 383.8 L332.5 387.5 L331.9 395 L330 398.8 L322.5 396.9 L318.1 394.4Z"/>
<ellipse cx="326.2" cy="391" rx="2.8" ry="3.3" transform="rotate(22 326.2 391)" />
<path d="M322.5 396.9 L330 400.6 L330 406.2 L333.8 406.9 L338.8 406.2 L340.6 401.9"/>
<path d="M322.5 398.8 C323.12 400.47 325.58 405.07 326.2 408.8 C326.82 412.53 326.82 417.25 326.2 421.2 C325.58 425.15 324.37 429.17 322.5 432.5 C320.63 435.83 317.92 439.12 315 441.2 C312.08 443.28 307.7 444.27 305 445 C302.3 445.73 299.83 445.5 298.8 445.6"/>
<path d="M330 407.5 C330.42 409.17 332.3 413.95 332.5 417.5 C332.7 421.05 332.25 425.47 331.2 428.8 C330.15 432.13 328.27 435 326.2 437.5 C324.13 440 320.87 442.55 318.8 443.8 C316.73 445.05 314.63 444.8 313.8 445"/>
<path d="M333.8 407.5 C334.2 409.17 336 413.75 336.2 417.5 C336.4 421.25 336.03 426.45 335 430 C333.97 433.55 332.08 436.3 330 438.8 C327.92 441.3 324.58 443.65 322.5 445 C320.42 446.35 318.33 446.58 317.5 446.9"/>
<path d="M336.9 408.1 C337.32 409.88 339.2 414.95 339.4 418.8 C339.6 422.65 339.25 427.47 338.1 431.2 C336.95 434.93 334.68 438.58 332.5 441.2 C330.32 443.82 327.5 445.63 325 446.9 C322.5 448.17 318.75 448.48 317.5 448.8"/>
<path d="M340 408.1 C340.73 409.05 343.37 411.4 344.4 413.8 C345.43 416.2 346.1 419.17 346.2 422.5 C346.3 425.83 346.03 430.47 345 433.8 C343.97 437.13 342.08 440 340 442.5 C337.92 445 335.2 447.23 332.5 448.8 C329.8 450.37 325.25 451.38 323.8 451.9"/>
<path d="M350 413.1 C350.32 414.67 351.8 419.05 351.9 422.5 C352 425.95 351.55 430.25 350.6 433.8 C349.65 437.35 347.97 441.1 346.2 443.8 C344.43 446.5 342.5 448.13 340 450 C337.5 451.87 332.67 454.17 331.2 455"/>
<path d="M344.4 342.5 C347.15 343.67 352.7 345.47 356.2 347.5 C359.7 349.53 358.65 349.17 359.4 351.2 C360.15 353.23 359.98 353.87 359.4 356.2 C358.82 358.53 358.21 359.73 356.9 361.2 C355.59 362.67 354.97 362.64 353.8 362.5 C352.63 362.36 352.2 361.63 351.9 360.6 C351.6 359.57 353.08 358.68 352.5 358.1 C351.92 357.52 351.01 357.52 349.4 358.1 C347.79 358.68 346.77 359.27 345.6 360.6 C344.43 361.93 344.1 362.63 344.4 363.8 C344.7 364.97 345.59 365.32 346.9 365.6 C348.21 365.88 349 365.58 350 365 C351 364.42 350.92 363.54 351.2 363.1"/>
<path d="M344.4 363.8 L336.2 382.5"/>
<path d="M359.4 356.2 C360.13 357.87 362.55 362.87 363.8 366.2 C365.05 369.53 366.28 374 366.9 376.2 C367.52 378.4 367.4 378.87 367.5 379.4"/>
<path d="M343.1 370.6 L378.8 385.6"/>
<path d="M378.8 385.6 C379.2 386.13 380.8 387.65 381.2 388.8 C381.6 389.95 381.6 391.05 381.2 392.5 C380.8 393.95 379.83 396.35 378.8 397.5 C377.77 398.65 376.37 399.08 375 399.4 C373.63 399.72 371.75 398.88 370.6 399.4 C369.45 399.92 368.52 401.98 368.1 402.5"/>
<path d="M368.1 402.5 C368 403.95 367.82 407.65 367.5 411.2 C367.18 414.75 366.42 421.7 366.2 423.8"/>
<path d="M336.2 383.1 L370 397.5"/>
<path d="M360.5 397.6 L367.5 400.2"/>
<path d="M333.8 383.8 L357.5 393.8"/>
<path d="M357.5 393.8 C357.92 394.42 359.68 395.83 360 397.5 C360.32 399.17 360.03 402.23 359.4 403.8 C358.77 405.37 356.73 406.38 356.2 406.9"/>
<path d="M356.2 406.9 L341.2 401.9"/>
<path d="M351.2 413.8 L360 430"/>
<path d="M355 410 L365 423.8"/>
<path d="M351.9 430 L361.2 433.8"/>
<path d="M346.2 443.8 L356.2 448.1"/>
<path d="M331.2 455 L355 452.5"/>
<path d="M331.2 455 L332.5 458.1 L353.8 456.9"/>
<path d="M297.5 445.6 L301.9 446.2 L310.6 450.6 L313.1 446.2 L316.2 446.9 L316.9 451.9 L320.6 453.8 L318.8 459.4"/>
<ellipse cx="299.8" cy="453.8" rx="2.6" ry="3" transform="rotate(22 299.8 453.8)" />
<path d="M306.5 455.8 C306.12 456.42 305.2 458.38 304.2 459.5 C303.2 460.62 301.87 461.65 300.5 462.5 C299.13 463.35 297.17 463.77 296 464.6 C294.83 465.43 294.5 465.13 293.5 467.5 C292.5 469.87 291.22 475.38 290 478.8 C288.78 482.22 286.82 485.88 286.2 488 C285.58 490.12 286.58 490 286.3 491.5 C286.02 493 284.8 496.08 284.5 497"/>
<path d="M299 469.6 L293 484.2"/>
<path d="M305 456.9 L330 463.8 L353.8 460"/>
<path d="M301.2 465.6 L321.2 472.5"/>
<path d="M321.2 472.5 C322.03 472.08 324.93 471.25 326.2 470 C327.47 468.75 328.37 465.83 328.8 465"/>
<path d="M302 468.6 L337.5 479.6"/>
<path d="M325 472.3 L337.5 476.6 L350 461.2"/>
<path d="M337.5 476.9 L337.5 481.2"/>
<path d="M296.2 481.2 L337.5 496.2"/>
<path d="M337.5 496.2 C338.12 496 340.15 496.03 341.2 495 C342.25 493.97 343.48 491.67 343.8 490 C344.12 488.33 344.15 486.47 343.1 485 C342.05 483.53 338.43 481.83 337.5 481.2"/>
<path d="M300 503.1 C302.08 502.17 308.97 499.48 312.5 497.5 C316.03 495.52 319.75 492.25 321.2 491.2"/>
</g>
<text x="212.3" y="326.6" font-size="7.2" font-weight="bold" fill="#333" >3</text>
<text x="56.5" y="400.6" font-size="7.2" font-weight="bold" fill="#333" >2</text>
<text x="365.2" y="509.6" font-size="7.2" font-weight="bold" fill="#333" >1</text>
<text transform="translate(185.6,283.4) rotate(22.5)" font-size="6.9" fill="#222" textLength="26" lengthAdjust="spacing">8,65mm</text>
</svg></body></html>
